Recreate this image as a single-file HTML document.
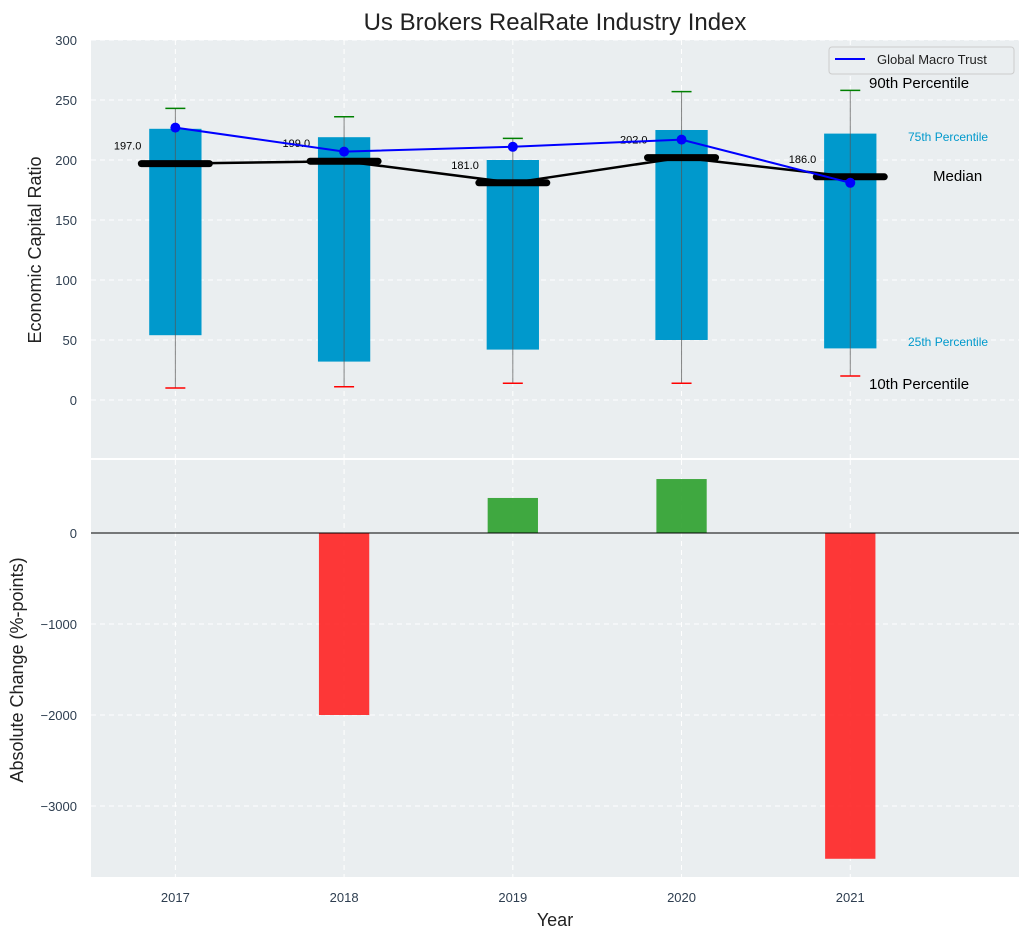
<!DOCTYPE html>
<html><head><meta charset="utf-8"><style>
body{margin:0;background:#fff;font-family:"Liberation Sans","DejaVu Sans",sans-serif}
svg text{font-family:"Liberation Sans","DejaVu Sans",sans-serif}
</style></head><body>
<svg id="c" width="1029" height="940" xmlns="http://www.w3.org/2000/svg"></svg>
<script>
const years=[2017,2018,2019,2020,2021];
const p10=[10,11,14,14,20];
const p25=[54,32,42,50,43];
const median=[197,199,181,202,186];
const p75=[226,219,200,225,222];
const p90=[243,236,218,257,258];
const macro=[227,207,211,217,181];
const change=[0,-2000,385,593,-3580];
const topTicks=[0,50,100,150,200,250,300];
const botTicks=[0,-1000,-2000,-3000];

const NS="http://www.w3.org/2000/svg";
const svg=document.getElementById('c');
function el(t,a,p){const e=document.createElementNS(NS,t);for(const k in a)e.setAttribute(k,a[k]);(p||svg).appendChild(e);return e;}
const L=91,R=1019;
const x=v=>L+(v-2016.5)/(2022-2016.5)*(R-L);
const yT=v=>400-1.2*v;
const yB=v=>533-0.091*v;
const pw=(R-L)/5.5;

// backgrounds
let e=el('rect',{x:L,y:40,width:R-L,height:418,fill:'#eaeef0'});

e=el('rect',{x:L,y:460,width:R-L,height:417,fill:'#eaeef0'});


// grids & ticks
topTicks.forEach(t=>{
 el('line',{x1:L,x2:R,y1:yT(t),y2:yT(t),stroke:'#fff','stroke-dasharray':'5,4','stroke-width':1});
 e=el('text',{x:L-14,y:yT(t)+5,'text-anchor':'end','font-size':13,fill:'#2e3e50'});e.textContent=t;
 
});
botTicks.forEach(t=>{
 el('line',{x1:L,x2:R,y1:yB(t),y2:yB(t),stroke:'#fff','stroke-dasharray':'5,4','stroke-width':1});
 e=el('text',{x:L-14,y:yB(t)+5,'text-anchor':'end','font-size':13,fill:'#2e3e50'});e.textContent=t===0?'0':'\u2212'+(-t);
 
});
years.forEach(yr=>{
 el('line',{x1:x(yr),x2:x(yr),y1:40,y2:458,stroke:'#fff','stroke-dasharray':'5,4'});
 el('line',{x1:x(yr),x2:x(yr),y1:460,y2:877,stroke:'#fff','stroke-dasharray':'5,4'});
 e=el('text',{x:x(yr),y:902,'text-anchor':'middle','font-size':13,fill:'#2e3e50'});e.textContent=yr;
 
});

// top bars and whiskers
const bw=0.31*pw;
years.forEach((yr,i)=>{
 const cx=x(yr);
 e=el('rect',{x:cx-bw/2,y:yT(p75[i]),width:bw,height:yT(p25[i])-yT(p75[i]),fill:'#0099cc'});
 
 el('line',{x1:cx,x2:cx,y1:yT(p90[i]),y2:yT(p10[i]),stroke:'#555','stroke-width':1,opacity:0.7});
 el('line',{x1:cx-10,x2:cx+10,y1:yT(p90[i]),y2:yT(p90[i]),stroke:'green','stroke-width':1.5});
 el('line',{x1:cx-10,x2:cx+10,y1:yT(p10[i]),y2:yT(p10[i]),stroke:'red','stroke-width':1.5});
});
// median line
let d=years.map((yr,i)=>(i?'L':'M')+x(yr)+','+yT(median[i])).join('');
e=el('path',{d:d,fill:'none',stroke:'#000','stroke-width':2.5});

years.forEach((yr,i)=>{
 const cx=x(yr);
 e=el('line',{x1:cx-34,x2:cx+34,y1:yT(median[i]),y2:yT(median[i]),stroke:'#000','stroke-width':7,'stroke-linecap':'round'});
 
 e=el('text',{x:cx-34,y:yT(median[i])-14,'text-anchor':'end','font-size':11,fill:'#000'});e.textContent=median[i].toFixed(1);
 
});
// macro line
d=years.map((yr,i)=>(i?'L':'M')+x(yr)+','+yT(macro[i])).join('');
e=el('path',{d:d,fill:'none',stroke:'#0000ff','stroke-width':2});

years.forEach((yr,i)=>{
 e=el('circle',{cx:x(yr),cy:yT(macro[i]),r:5,fill:'#0000ff'});
 
});
// annotations
[['90th Percentile',869,88,15,'#000'],['75th Percentile',908,141,12,'#0099cc'],['Median',933,181,15,'#000'],['25th Percentile',908,346,12,'#0099cc'],['10th Percentile',869,389,15,'#000']].forEach(a=>{
 e=el('text',{x:a[1],y:a[2],'font-size':a[3],fill:a[4]});e.textContent=a[0];
 
});
// legend
e=el('g',{});
el('rect',{x:829,y:47,width:185,height:27,rx:3,fill:'#eaeef0',stroke:'#ccc'},e);
el('line',{x1:835,x2:865,y1:59,y2:59,stroke:'#0000ff','stroke-width':2},e);
let t=el('text',{x:877,y:64,'font-size':13,fill:'#222'},e);t.textContent='Global Macro Trust';

// bottom bars
years.forEach((yr,i)=>{
 const v=change[i];if(v===0)return;
 const y0=Math.min(yB(0),yB(v)),h=Math.abs(yB(v)-yB(0));
 e=el('rect',{x:x(yr)-bw/2+1,y:y0,width:bw-2,height:h,fill:v>0?'#2ca02c':'#ff2222',opacity:0.9});
 
});
el('line',{x1:L,x2:R,y1:yB(0),y2:yB(0),stroke:'#000','stroke-width':1});

// titles
e=el('text',{x:555,y:30,'text-anchor':'middle','font-size':24,fill:'#222'});e.textContent='Us Brokers RealRate Industry Index';

e=el('text',{x:41,y:250,'text-anchor':'middle','font-size':18,fill:'#222',transform:'rotate(-90 41 250)'});e.textContent='Economic Capital Ratio';

e=el('text',{x:23,y:670,'text-anchor':'middle','font-size':18,fill:'#222',transform:'rotate(-90 23 670)'});e.textContent='Absolute Change (%-points)';

e=el('text',{x:555,y:926,'text-anchor':'middle','font-size':18,fill:'#222'});e.textContent='Year';

</script>
</body></html>
